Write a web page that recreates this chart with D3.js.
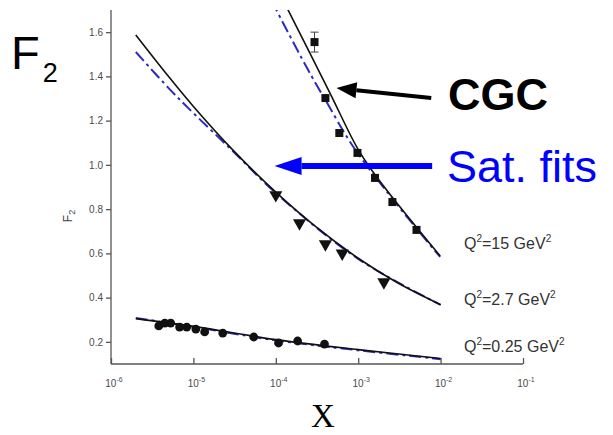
<!DOCTYPE html>
<html>
<head>
<meta charset="utf-8">
<script src="https://cdn.jsdelivr.net/npm/d3@7"></script>
<style>
  html, body { margin: 0; padding: 0; background: #fff; }
  svg { display: block; font-family: Arial, "Liberation Sans", sans-serif; }
</style>
</head>
<body>
<div id="chart"></div>
<script>
// Q2 = 15 GeV2 data (squares)
const xQ15 = [2.95e-4, 4.0e-4, 5.9e-4, 9.8e-4, 1.6e-3, 2.6e-3, 5.1e-3];
const fQ15 = [1.555, 1.302, 1.144, 1.054, 0.941, 0.832, 0.706];
const eQ15 = [0.045, 0, 0, 0, 0, 0, 0];
// Q2 = 2.7 GeV2 data (triangles)
const xQ27 = [1.0e-4, 1.94e-4, 4.0e-4, 6.4e-4, 2.05e-3];
const fQ27 = [0.864, 0.737, 0.642, 0.600, 0.470];
// Q2 = 0.25 GeV2 data (circles)
const xQ025 = [3.8e-6, 4.5e-6, 5.3e-6, 6.8e-6, 8.3e-6, 1.07e-5, 1.37e-5, 2.27e-5, 5.4e-5, 1.08e-4, 1.84e-4, 3.9e-4];
const fQ025 = [0.272, 0.285, 0.285, 0.267, 0.267, 0.258, 0.245, 0.240, 0.222, 0.195, 0.204, 0.190];

// CGC curves (black solid)
const cgc15 = [[1.24e-4, 1.741], [4.48e-4, 1.329], [9.77e-4, 1.076], [1.61e-3, 0.954], [3.15e-3, 0.814], [9.88e-3, 0.588]];
const cgc27 = [[2e-6, 1.587], [5e-6, 1.399], [1e-5, 1.264], [3e-5, 1.068], [1e-4, 0.877], [3e-4, 0.723], [1e-3, 0.578], [3e-3, 0.467], [1e-2, 0.368]];
const cgc025 = [[2e-6, 0.305], [1e-5, 0.270], [1e-4, 0.210], [1e-3, 0.165], [1e-2, 0.125]];
// saturation fits (blue dash-dot)
const sat15 = [[8.9e-5, 1.741], [2.36e-4, 1.442], [4.0e-4, 1.293], [8.75e-4, 1.081], [2.99e-3, 0.819], [9.88e-3, 0.584]];
const sat27 = [[2e-6, 1.51], [5e-6, 1.347], [1e-5, 1.234], [3e-5, 1.063], [1e-4, 0.873], [1e-3, 0.575], [1e-2, 0.367]];
const sat025 = [[2e-6, 0.308], [1e-5, 0.268], [1e-4, 0.207], [1e-3, 0.162], [1e-2, 0.122]];

const yTicks = [0.2, 0.4, 0.6, 0.8, 1.0, 1.2, 1.4, 1.6];
const xMajor = [1e-6, 1e-5, 1e-4, 1e-3, 1e-2, 1e-1];
const qLabels = [
  { q: '15', y: 0.62 },
  { q: '2.7', y: 0.367 },
  { q: '0.25', y: 0.154 }
];

const W = 613, H = 435;
const svg = d3.select('#chart').append('svg').attr('width', W).attr('height', H);

const x = d3.scaleLog().domain([1e-6, 1e-1]).range([111, 523]);
const y = d3.scaleLinear().domain([0.1, 1.7]).range([364, 10]);

svg.append('defs').append('clipPath').attr('id', 'clip')
  .append('rect').attr('x', 111).attr('y', 10).attr('width', 412).attr('height', 354);

// Axes
const axisColor = '#555';
const gy = svg.append('g').attr('transform', 'translate(111,0)');
gy.call(d3.axisLeft(y).tickValues(d3.range(0.1, 1.71, 0.1).map(v => +v.toFixed(1))).tickSize(3).tickFormat(''));
gy.call(d3.axisLeft(y).tickValues(yTicks).tickSize(5).tickFormat(d3.format('.1f')));
gy.selectAll('path').attr('d', `M0,${y(0.1)}V${y(1.7)}`);
gy.selectAll('path, line').attr('stroke', axisColor).attr('stroke-width', 1.3);
gy.selectAll('text').attr('fill', '#4a4a4a').attr('font-size', 10).attr('font-family', 'Arial, sans-serif').attr('x', -8);

const gx = svg.append('g').attr('transform', 'translate(0,364)');
gx.call(d3.axisBottom(x).tickValues(x.ticks()).tickSize(-3).tickFormat(''));
gx.call(d3.axisBottom(x).tickValues(xMajor).tickSize(-6).tickFormat(''));
gx.selectAll('path').attr('d', `M${x(1e-6)},0H${x(1e-1)}`);
gx.selectAll('path, line').attr('stroke', axisColor).attr('stroke-width', 1.3);
xMajor.forEach(v => {
  const t = gx.append('text').attr('x', x(v) + 3).attr('y', 23)
    .attr('text-anchor', 'middle').attr('fill', '#4a4a4a').attr('font-size', 10);
  t.append('tspan').text('10');
  t.append('tspan').attr('dy', -5).attr('font-size', 7).text(Math.round(Math.log10(v)));
});

// small rotated F2 axis title
const yt = svg.append('text').attr('transform', 'translate(72,216) rotate(-90)')
  .attr('text-anchor', 'middle').attr('fill', '#444').attr('font-size', 12);
yt.append('tspan').text('F');
yt.append('tspan').attr('dy', 3).attr('font-size', 9).text('2');

// curves
const plot = svg.append('g').attr('clip-path', 'url(#clip)');
const line = d3.line().x(d => x(d[0])).y(d => y(d[1])).curve(d3.curveCatmullRom.alpha(0.5));

[sat15, sat27, sat025].forEach(c => {
  plot.append('path').datum(c).attr('d', line)
    .attr('fill', 'none').attr('stroke', '#2b2bc0').attr('stroke-width', 2)
    .attr('stroke-dasharray', '12,4,3,4');
});
[cgc15, cgc27, cgc025].forEach(c => {
  plot.append('path').datum(c).attr('d', line)
    .attr('fill', 'none').attr('stroke', '#111').attr('stroke-width', 1.6);
});

// markers
xQ15.forEach((v, i) => {
  if (eQ15[i] > 0) {
    const cx = x(v);
    plot.append('path')
      .attr('d', `M${cx},${y(fQ15[i] - eQ15[i])}V${y(fQ15[i] + eQ15[i])}M${cx - 4},${y(fQ15[i] - eQ15[i])}h8M${cx - 4},${y(fQ15[i] + eQ15[i])}h8`)
      .attr('stroke', '#444').attr('stroke-width', 1).attr('fill', 'none');
  }
  plot.append('rect').attr('x', x(v) - 4).attr('y', y(fQ15[i]) - 4)
    .attr('width', 8).attr('height', 8).attr('fill', '#111');
});
xQ27.forEach((v, i) => {
  plot.append('path')
    .attr('d', d3.symbol().type(d3.symbolTriangle).size(75))
    .attr('transform', `translate(${x(v)},${y(fQ27[i])}) rotate(180)`)
    .attr('fill', '#111');
});
xQ025.forEach((v, i) => {
  plot.append('circle').attr('cx', x(v)).attr('cy', y(fQ025[i])).attr('r', 4.4).attr('fill', '#111');
});

// Q2 labels
qLabels.forEach(l => {
  const t = svg.append('text').attr('x', 464).attr('y', y(l.y)).attr('fill', '#333').attr('font-size', 16);
  t.append('tspan').text('Q');
  t.append('tspan').attr('dy', -7).attr('font-size', 10).text('2');
  t.append('tspan').attr('dy', 7).text('=' + l.q + ' GeV');
  t.append('tspan').attr('dy', -7).attr('font-size', 10).text('2');
});

// big F2
const big = svg.append('text').attr('x', 11).attr('y', 69).attr('fill', '#000').attr('font-size', 47);
big.append('tspan').text('F');
big.append('tspan').attr('dy', 13).attr('dx', 3).attr('font-size', 27).text('2');

// X label
svg.append('text').attr('x', 323).attr('y', 427).attr('text-anchor', 'middle')
  .attr('font-family', '"Liberation Serif", "Times New Roman", serif').attr('font-size', 33).attr('fill', '#000').text('X');

// annotations
function arrow(x1, y1, x2, y2, color, w, hl, hw) {
  const ang = Math.atan2(y2 - y1, x2 - x1);
  const bx = x2 - Math.cos(ang) * hl, by = y2 - Math.sin(ang) * hl;
  svg.append('line').attr('x1', x1).attr('y1', y1).attr('x2', bx).attr('y2', by)
    .attr('stroke', color).attr('stroke-width', w);
  const px = -Math.sin(ang) * hw, py = Math.cos(ang) * hw;
  svg.append('path').attr('d', `M${x2},${y2}L${bx + px},${by + py}L${bx - px},${by - py}Z`).attr('fill', color);
}
arrow(x(7.7e-3), y(1.302), x(5.45e-4), y(1.347), '#000', 4, 20, 8);
arrow(x(7.9e-3), y(0.995), x(9.66e-5), y(0.995), '#0000ff', 6, 27, 9);

svg.append('text').attr('x', 448).attr('y', 110).attr('font-size', 45).attr('font-weight', 'bold')
  .attr('fill', '#000').text('CGC');
svg.append('text').attr('x', 447).attr('y', 182).attr('font-size', 45)
  .attr('fill', '#0000ff').text('Sat. fits');
</script>
</body>
</html>
